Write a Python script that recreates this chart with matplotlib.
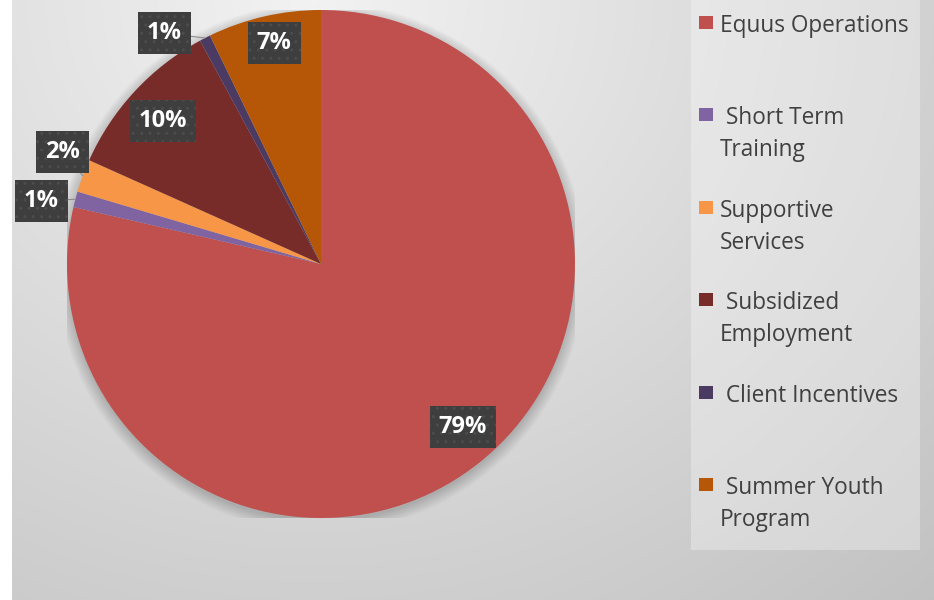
import numpy as np
import matplotlib.pyplot as plt
from matplotlib.patches import Rectangle, Circle

# share of spending by program
programs = ["Equus Operations", " Short Term\nTraining", "Supportive\nServices",
            " Subsidized\nEmployment", " Client Incentives", " Summer Youth\nProgram"]
shares = [78.6, 1.0, 2.1, 10.4, 0.7, 7.2]
colors = ["#c0504d", "#8064a2", "#f79646", "#772c2a", "#4b3a62", "#b65708"]

# label placement style (fraction of radius, angle tweak in degrees)
lab_r = [0.85, 1.13, 1.11, 0.84, 1.10, 0.89]
lab_shift = [2.5, 2.0, -3.0, 0.6, 7.0, -1.0]

W, H = 934, 600
fig = plt.figure(figsize=(W / 100, H / 100), dpi=100)
fig.patch.set_facecolor("white")

# gray gradient background
bg = fig.add_axes([12 / W, 0, (W - 12) / W, 1])
yy, xx = np.mgrid[0:H, 0:W - 12]
d = np.sqrt((xx - 300) ** 2 + (yy * 1.1) ** 2)
shade = 0.95 - 0.19 * (d / d.max())
bg.imshow(np.dstack([shade] * 3), aspect="auto", extent=[0, 1, 0, 1], origin="upper")
bg.axis("off")

# legend panel
fig.patches.append(Rectangle((691 / W, 50 / H), 229 / W, 550 / H, transform=fig.transFigure,
                             facecolor="white", alpha=0.3, edgecolor="none", zorder=1))

R = 254
cx, cy = 321, 264
ax = fig.add_axes([(cx - R) / W, (H - cy - R) / H, 2 * R / W, 2 * R / H])

# soft shadow
for k in range(8):
    ax.add_patch(Circle((0.0, -0.012), 1.0 + 0.006 * k, color="black", alpha=0.022, zorder=0, lw=0))

wedges, _ = ax.pie(shares, colors=colors, startangle=90, counterclock=False, radius=1,
                   wedgeprops=dict(linewidth=0))
for w in wedges:
    w.set_zorder(2)
ax.set_xlim(-1, 1)
ax.set_ylim(-1, 1)
ax.axis("off")

total = sum(shares)
for i, w in enumerate(wedges):
    mid = (w.theta1 + w.theta2) / 2
    ang = np.deg2rad(mid + lab_shift[i])
    tx, ty = lab_r[i] * np.cos(ang), lab_r[i] * np.sin(ang)
    txt = f"{shares[i] / total * 100:.0f}%"
    box = dict(boxstyle="square,pad=0.38", facecolor="#3e3e3e", edgecolor="#4c4c4c",
               hatch="..", linewidth=0)
    if lab_r[i] > 1:
        ex, ey = np.cos(np.deg2rad(mid)), np.sin(np.deg2rad(mid))
        ax.annotate(txt, xy=(ex, ey), xytext=(tx, ty), ha="center", va="center",
                    fontsize=17, fontweight="bold", color="white", family="Open Sans",
                    bbox=box, zorder=5, annotation_clip=False,
                    arrowprops=dict(arrowstyle="-", color="#8c8c8c", lw=0.8,
                                    shrinkA=0, shrinkB=0))
    else:
        ax.text(tx, ty, txt, ha="center", va="center", fontsize=17, fontweight="bold",
                color="white", family="Open Sans", bbox=box, zorder=5)

# legend entries
for i, name in enumerate(programs):
    yc = 25 + 92.4 * i
    fig.patches.append(Rectangle((699 / W, 1 - (yc + 4) / H), 14 / W, 13 / H,
                                 transform=fig.transFigure, facecolor=colors[i],
                                 edgecolor="none", zorder=3))
    fig.text(720 / W, 1 - (yc - 11) / H, name, ha="left", va="top", fontsize=16.3,
             family="Open Sans", color="#404040", linespacing=1.45, zorder=4)

fig.savefig("out.png", dpi=100)
